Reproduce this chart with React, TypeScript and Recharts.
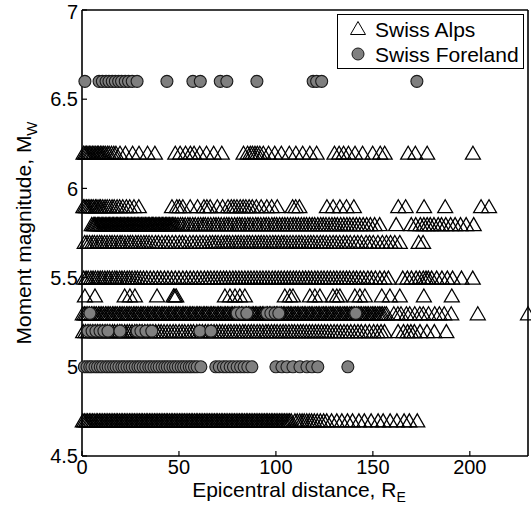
import { ScatterChart, Scatter, XAxis, YAxis, CartesianGrid, Legend } from "recharts";

// epicentral distance ticks / magnitude ticks
const xTicks = [0, 50, 100, 150, 200];
const yTicks = [4.5, 5, 5.5, 6, 6.5, 7];

// Swiss Alps: distances (km) per magnitude row
const alps62 = [0.8, 1.6, 2.3, 3.1, 3.9, 4.6, 5.5, 6.2, 7.1, 7.9, 8.6, 9.5, 10.3, 11.2, 12.0, 13.1, 14.0, 15.2,
  16.4, 17.5, 19.6, 22.4, 26.1, 29.4, 33.8, 37.6, 48.1, 50.6, 53.4, 55.9, 57.8, 60.7, 64.2, 67.9, 72.1, 83.3,
  85.4, 86.8, 87.9, 89.2, 90.4, 91.7, 93.5, 96.2, 99.4, 102.8, 106.9, 110.3, 113.8, 117.5, 121.0, 130.2, 132.6,
  134.9, 137.4, 140.8, 144.7, 149.9, 153.8, 156.1, 168.2, 171.9, 178.0, 201.6];
const alps59 = [0.7, 1.5, 2.4, 3.2, 4.1, 5.0, 5.8, 6.9, 7.7, 8.8, 9.6, 10.7, 11.9, 13.0, 14.2, 15.5, 16.6, 18.1,
  19.4, 21.0, 22.9, 24.6, 26.8, 29.3, 46.4, 48.9, 50.2, 52.0, 55.8, 59.6, 62.9, 64.4, 66.1, 69.8, 72.5, 75.3,
  77.0, 78.4, 79.9, 81.6, 83.1, 84.5, 86.2, 87.8, 89.9, 92.4, 95.3, 97.8, 100.7, 108.6, 110.2, 112.1, 126.3,
  129.5, 133.0, 136.4, 140.2, 163.1, 166.9, 176.4, 187.3, 205.8, 209.9];
const alps58 = [5.0, 5.8, 6.5, 7.1, 7.9, 8.6, 9.2, 9.9, 10.7, 11.3, 12.0, 12.8, 13.5, 14.1, 14.9, 15.6, 16.2, 17.0,
  17.7, 18.4, 19.1, 19.9, 20.6, 21.2, 22.0, 22.7, 23.5, 24.1, 24.8, 25.6, 26.3, 27.0, 27.8, 28.5, 29.1, 29.9,
  30.6, 31.4, 32.0, 32.8, 33.5, 34.2, 34.9, 35.7, 36.4, 37.0, 37.8, 38.6, 39.3, 40.0, 40.8, 41.5, 42.2, 43.0,
  43.7, 44.4, 45.1, 45.9, 46.6, 47.4, 48.3, 49.5, 50.8, 51.9, 53.2, 54.6, 55.7, 57.1, 58.4, 59.9, 61.2, 62.5,
  63.6, 65.0, 66.4, 67.9, 69.1, 70.4, 71.8, 73.3, 74.6, 75.8, 77.2, 78.7, 80.1, 81.3, 82.6, 84.0, 85.5, 86.7,
  88.1, 89.6, 90.8, 92.2, 93.7, 95.0, 96.3, 97.9, 99.2, 100.4, 101.9, 103.3, 104.6, 106.0, 107.5, 108.9, 110.2,
  111.6, 113.1, 114.5, 115.8, 117.3, 118.7, 120.0, 121.6, 123.1, 124.4, 125.8, 127.4, 128.9, 130.3, 131.7,
  133.4, 135.0, 136.6, 138.1, 139.8, 141.5, 143.2, 145.0, 146.8, 148.7, 150.9, 153.5, 162.0, 169.8, 172.1,
  174.5, 176.3, 178.0, 179.6, 181.5, 183.7, 185.4, 187.6, 190.1, 192.4, 195.2, 198.1, 202.0];
const alps57 = [1.4, 2.6, 3.9, 5.3, 6.4, 7.8, 9.1, 10.2, 11.6, 12.9, 14.3, 15.5, 16.8, 18.2, 19.6, 20.7, 22.1,
  23.6, 24.9, 26.1, 27.7, 29.0, 30.4, 31.9, 33.2, 34.6, 36.1, 37.9, 39.4, 41.2, 43.0, 44.6, 46.5, 48.3, 50.2,
  51.8, 53.5, 55.6, 57.3, 59.0, 60.8, 62.4, 64.1, 65.9, 67.3, 68.8, 70.2, 71.9, 73.4, 74.8, 76.1, 77.7, 79.2,
  80.6, 82.0, 83.5, 85.1, 86.4, 87.9, 89.5, 91.0, 92.4, 93.8, 95.3, 96.9, 98.4, 99.8, 101.3, 102.9, 104.2,
  105.7, 107.3, 108.8, 110.4, 111.9, 113.3, 114.9, 116.6, 118.0, 119.5, 121.2, 122.9, 124.4, 126.0, 127.8,
  129.5, 131.1, 132.9, 134.8, 136.5, 138.3, 140.4, 142.2, 144.1, 146.5, 148.3, 150.2, 152.6, 154.9, 157.0,
  159.1, 161.3, 163.9, 173.6, 175.9];
const alps55 = [0.9, 2.1, 3.2, 4.6, 5.7, 6.9, 8.2, 9.4, 10.5, 11.8, 13.1, 14.2, 15.6, 16.9, 18.0, 19.4, 20.6,
  21.9, 23.3, 24.5, 25.8, 27.3, 28.6, 30.1, 31.7, 33.4, 35.2, 37.0, 38.9, 40.6, 42.5, 44.3, 46.2, 48.1, 50.0,
  52.0, 53.9, 55.8, 57.6, 59.5, 61.3, 63.1, 64.8, 66.4, 68.1, 69.7, 71.4, 73.0, 74.5, 76.2, 77.8, 79.3, 80.9,
  82.4, 84.0, 85.6, 87.1, 88.7, 90.2, 91.8, 93.3, 94.9, 96.4, 98.1, 99.6, 101.2, 102.7, 104.3, 105.9, 107.4,
  109.0, 110.5, 112.1, 113.8, 115.3, 116.9, 118.4, 120.1, 121.6, 123.3, 124.8, 126.5, 128.1, 129.8, 131.4,
  133.1, 134.7, 136.4, 138.0, 139.9, 141.6, 143.5, 145.3, 147.4, 149.2, 151.3, 153.6, 155.9, 158.0, 165.4,
  167.8, 169.9, 172.3, 174.1, 176.0, 177.4, 178.6, 180.3, 182.9, 185.6, 188.4, 191.1, 195.7, 201.5];
const alps54 = [1.5, 6.7, 22.0, 24.7, 27.3, 38.7, 47.2, 47.9, 48.6, 73.7, 76.3, 78.9, 81.4, 84.0, 104.6, 107.2,
  108.8, 117.5, 120.1, 122.7, 129.4, 131.4, 133.0, 140.7, 143.3, 145.9, 154.6, 158.8, 163.9, 176.3, 190.7];
const alps53 = [0.4, 1.3, 2.1, 3.0, 3.8, 4.9, 5.7, 6.6, 7.4, 8.5, 9.3, 10.2, 11.0, 12.1, 12.9, 13.8, 14.6, 15.7,
  16.5, 17.4, 18.2, 19.3, 20.1, 21.0, 21.8, 22.9, 23.7, 24.6, 25.4, 26.5, 27.3, 28.2, 29.0, 30.1, 30.9, 31.8,
  32.6, 33.7, 34.5, 35.4, 36.2, 37.3, 38.1, 39.0, 39.8, 40.9, 41.7, 42.6, 43.4, 44.5, 45.3, 46.2, 47.0, 48.1,
  48.9, 49.8, 50.6, 51.7, 52.5, 53.4, 54.2, 55.3, 56.1, 57.0, 57.8, 58.9, 59.7, 60.6, 61.4, 62.5, 63.3, 64.2,
  65.0, 66.1, 66.9, 67.8, 68.6, 69.7, 70.5, 71.4, 72.2, 73.3, 74.1, 75.0, 75.8, 76.9, 77.7, 78.6, 79.4, 80.5,
  81.3, 82.2, 83.0, 84.1, 84.9, 85.8, 86.6, 87.7, 88.5, 89.4, 90.2, 91.3, 92.1, 93.0, 93.8, 94.9, 95.7, 96.6,
  97.4, 98.5, 99.3, 100.2, 101.0, 102.1, 102.9, 103.8, 104.6, 105.7, 106.5, 107.4, 108.2, 109.3, 110.1, 111.0,
  111.8, 112.9, 113.7, 114.6, 115.4, 116.5, 117.3, 118.2, 119.0, 120.1, 120.9, 121.8, 122.6, 123.7, 124.5,
  125.4, 126.2, 127.3, 128.1, 129.0, 129.8, 130.9, 131.7, 132.6, 133.4, 134.5, 135.3, 136.2, 137.0, 138.1,
  138.9, 139.8, 140.6, 141.7, 142.5, 143.4, 144.2, 145.3, 146.1, 147.0, 147.8, 148.9, 149.7, 150.6, 151.4,
  152.5, 153.3, 154.2, 155.0, 156.1, 157.0, 160.8, 162.9, 164.5, 167.3, 169.0, 171.6, 174.2, 176.0, 178.7,
  181.9, 184.3, 186.8, 190.4, 204.1, 230.0];
const alps52 = [0.6, 1.8, 3.1, 4.2, 5.6, 6.8, 8.1, 9.3, 10.5, 11.9, 13.0, 14.4, 15.7, 16.8, 18.2, 19.5, 20.6,
  22.0, 23.3, 24.5, 25.8, 27.2, 28.3, 29.7, 31.0, 32.4, 33.9, 35.1, 36.6, 38.0, 39.5, 40.8, 42.3, 43.9, 45.4,
  47.0, 48.4, 50.1, 51.6, 53.0, 54.7, 56.1, 57.5, 59.2, 60.6, 62.1, 63.6, 65.0, 66.6, 68.1, 69.5, 71.0, 72.4,
  73.9, 75.5, 76.8, 78.4, 79.8, 81.3, 82.9, 84.2, 85.8, 87.3, 88.7, 90.3, 91.7, 93.2, 94.8, 96.1, 97.7, 99.2,
  100.6, 102.2, 103.7, 105.1, 106.7, 108.2, 109.6, 111.2, 112.7, 114.1, 115.7, 117.3, 118.8, 120.4, 121.9,
  123.5, 125.1, 126.6, 128.3, 130.0, 131.6, 133.3, 135.1, 136.8, 138.6, 140.5, 142.3, 144.0, 146.1, 148.2,
  150.4, 152.3, 154.2, 156.0, 163.0, 165.8, 167.9, 169.6, 171.4, 174.3, 177.9, 181.7, 187.9];
const alps47 = [0.4, 1.2, 2.1, 2.9, 3.8, 4.6, 5.5, 6.3, 7.3, 8.1, 9.0, 9.8, 10.7, 11.6, 12.4, 13.3, 14.1, 15.0,
  15.9, 16.7, 17.6, 18.4, 19.3, 20.2, 21.0, 21.9, 22.7, 23.6, 24.5, 25.3, 26.2, 27.0, 27.9, 28.8, 29.6, 30.5,
  31.3, 32.2, 33.1, 33.9, 34.8, 35.6, 36.5, 37.4, 38.2, 39.1, 39.9, 40.8, 41.7, 42.5, 43.4, 44.2, 45.1, 46.0,
  46.8, 47.7, 48.5, 49.4, 50.3, 51.1, 52.0, 52.8, 53.7, 54.6, 55.4, 56.3, 57.1, 58.0, 58.9, 59.7, 60.6, 61.4,
  62.3, 63.2, 64.0, 64.9, 65.7, 66.6, 67.5, 68.3, 69.2, 70.0, 70.9, 71.8, 72.6, 73.5, 74.3, 75.2, 76.1, 76.9,
  77.8, 78.6, 79.5, 80.4, 81.2, 82.1, 82.9, 83.8, 84.7, 85.5, 86.4, 87.2, 88.1, 89.0, 89.8, 90.7, 91.5, 92.4,
  93.3, 94.1, 95.0, 95.8, 96.7, 97.6, 98.4, 99.3, 100.1, 101.0, 101.9, 102.7, 103.6, 104.4, 105.3, 106.2,
  107.0, 107.9, 109.8, 111.0, 112.3, 113.5, 114.6, 115.9, 117.2, 118.4, 119.8, 121.3, 122.9, 124.6, 126.2,
  128.7, 131.4, 134.0, 136.9, 139.5, 142.8, 145.6, 149.1, 152.7, 155.3, 158.9, 162.4, 166.1, 168.8, 172.9];

// Swiss Foreland
const fore66 = [1.5, 8.8, 10.5, 12.4, 13.9, 15.6, 17.2, 18.9, 20.4, 22.3, 24.0, 25.9, 28.4, 43.8, 57.2, 61.0,
  71.3, 74.7, 90.2, 119.2, 121.0, 123.6, 172.7];
const fore53 = [4.1, 80.0, 82.3, 85.0, 95.4, 97.4, 99.6, 101.5, 141.2];
const fore52 = [3.1, 5.2, 7.2, 9.3, 11.3, 13.4, 19.6, 28.4, 30.4, 33.0, 36.0, 60.8, 66.5];
const fore50 = [1.2, 2.6, 4.0, 5.1, 6.7, 8.0, 9.4, 10.6, 12.2, 13.5, 14.9, 16.3, 17.6, 19.0, 20.5, 21.7, 23.2,
  24.6, 25.9, 27.4, 28.8, 30.0, 31.5, 32.9, 34.4, 35.6, 37.1, 38.5, 39.8, 41.3, 42.7, 44.0, 45.4, 46.9, 48.2,
  49.6, 51.1, 52.4, 53.8, 55.3, 56.5, 58.0, 59.4, 61.3, 69.0, 70.8, 72.9, 74.5, 76.4, 78.1, 80.0, 81.8, 83.6,
  85.5, 87.6, 100.0, 103.1, 105.7, 108.8, 112.4, 116.0, 118.6, 121.6, 137.1];

const alpsRows: [number, number[]][] = [
  [6.2, alps62], [5.9, alps59], [5.8, alps58], [5.7, alps57], [5.5, alps55],
  [5.4, alps54], [5.3, alps53], [5.2, alps52], [4.7, alps47],
];
const foreRows: [number, number[]][] = [[6.6, fore66], [5.3, fore53], [5.2, fore52], [5.0, fore50]];

const toPoints = (rows: [number, number[]][]) =>
  rows.flatMap(([mw, ds]) => ds.map((d) => ({ dist: d, mw })));

const alpsData = toPoints(alpsRows);
const foreData = toPoints(foreRows);

const Triangle = (props: any) => {
  const { cx, cy } = props;
  if (cx == null || cy == null) return null;
  return (
    <polygon
      points={`${cx - 7.5},${cy + 6.5} ${cx + 7.5},${cy + 6.5} ${cx},${cy - 6.5}`}
      fill="none" stroke="#000" strokeWidth={1.25}
    />
  );
};

const Dot = (props: any) => {
  const { cx, cy } = props;
  if (cx == null || cy == null) return null;
  return <circle cx={cx} cy={cy} r={6} fill="#7f7f7f" stroke="#1a1a1a" strokeWidth={1.1} />;
};

const XLabel = (props: any) => {
  const { viewBox } = props;
  const cx = viewBox.x + viewBox.width / 2 - 6;
  return (
    <text x={cx} y={viewBox.y + 41} textAnchor="middle" fontSize={21} fill="#000">
      Epicentral distance, R<tspan fontSize={14} dy={5}>E</tspan>
    </text>
  );
};

const YLabel = (props: any) => {
  const { viewBox } = props;
  const x = viewBox.x + 31;
  const y = viewBox.y + viewBox.height / 2;
  return (
    <text x={x} y={y} transform={`rotate(-90, ${x}, ${y})`} textAnchor="middle" fontSize={21} fill="#000">
      Moment magnitude, M<tspan fontSize={15} dy={6}>W</tspan>
    </text>
  );
};

const LegendBox = () => (
  <svg width={187} height={55} style={{ display: "block" }}>
    <rect x={0.5} y={0.5} width={186} height={54} fill="#fff" stroke="#000" />
    <polygon points="13.5,20.5 28.5,20.5 21,7.5" fill="none" stroke="#000" />
    <text x={38} y={23} fontSize={21} fill="#000">Swiss Alps</text>
    <circle cx={21} cy={40} r={6} fill="#7f7f7f" stroke="#1a1a1a" />
    <text x={38} y={48} fontSize={21} fill="#000">Swiss Foreland</text>
  </svg>
);

export default function App() {
  const tickStyle = { fill: "#000", fontSize: 20 };
  const axisLine = { stroke: "#000", strokeWidth: 1.6 };
  const tickLine = { stroke: "#000", strokeWidth: 1.2 };
  return (
    <div style={{ position: "absolute", left: 0, top: 0, width: 531, height: 506, background: "#fff",
      fontFamily: "'Liberation Sans', Arial, sans-serif" }}>
      <ScatterChart width={531} height={506} margin={{ top: 0, right: 0, bottom: 0, left: 0 }}>
        <CartesianGrid stroke="#9a9a9a" strokeDasharray="1 3" horizontalValues={yTicks} verticalValues={xTicks} />
        <XAxis xAxisId="b" dataKey="dist" type="number" domain={[0, 230]} ticks={xTicks} height={50}
          axisLine={axisLine} tickLine={tickLine} tick={tickStyle} tickSize={-5} tickMargin={9}
          label={<XLabel />} />
        <XAxis xAxisId="t" orientation="top" type="number" domain={[0, 230]} ticks={xTicks} height={10}
          axisLine={axisLine} tickLine={tickLine} tick={false} tickSize={-5} />
        <YAxis yAxisId="l" dataKey="mw" type="number" domain={[4.5, 7]} ticks={yTicks} width={82}
          axisLine={axisLine} tickLine={tickLine} tick={tickStyle} tickSize={-5} tickMargin={9}
          tickFormatter={(v) => String(v)} label={<YLabel />} />
        <YAxis yAxisId="r" orientation="right" type="number" domain={[4.5, 7]} ticks={yTicks} width={3}
          axisLine={axisLine} tickLine={tickLine} tick={false} tickSize={-5} />
        <Scatter name="Swiss Alps" data={alpsData} xAxisId="b" yAxisId="l" shape={<Triangle />}
          isAnimationActive={false} />
        <Scatter name="Swiss Foreland" data={foreData} xAxisId="b" yAxisId="l" shape={<Dot />}
          isAnimationActive={false} />
        <Legend verticalAlign="middle" align="center" content={() => <LegendBox />}
          wrapperStyle={{ left: 337, top: 14, width: 187, height: 55 }} />
      </ScatterChart>
    </div>
  );
}
